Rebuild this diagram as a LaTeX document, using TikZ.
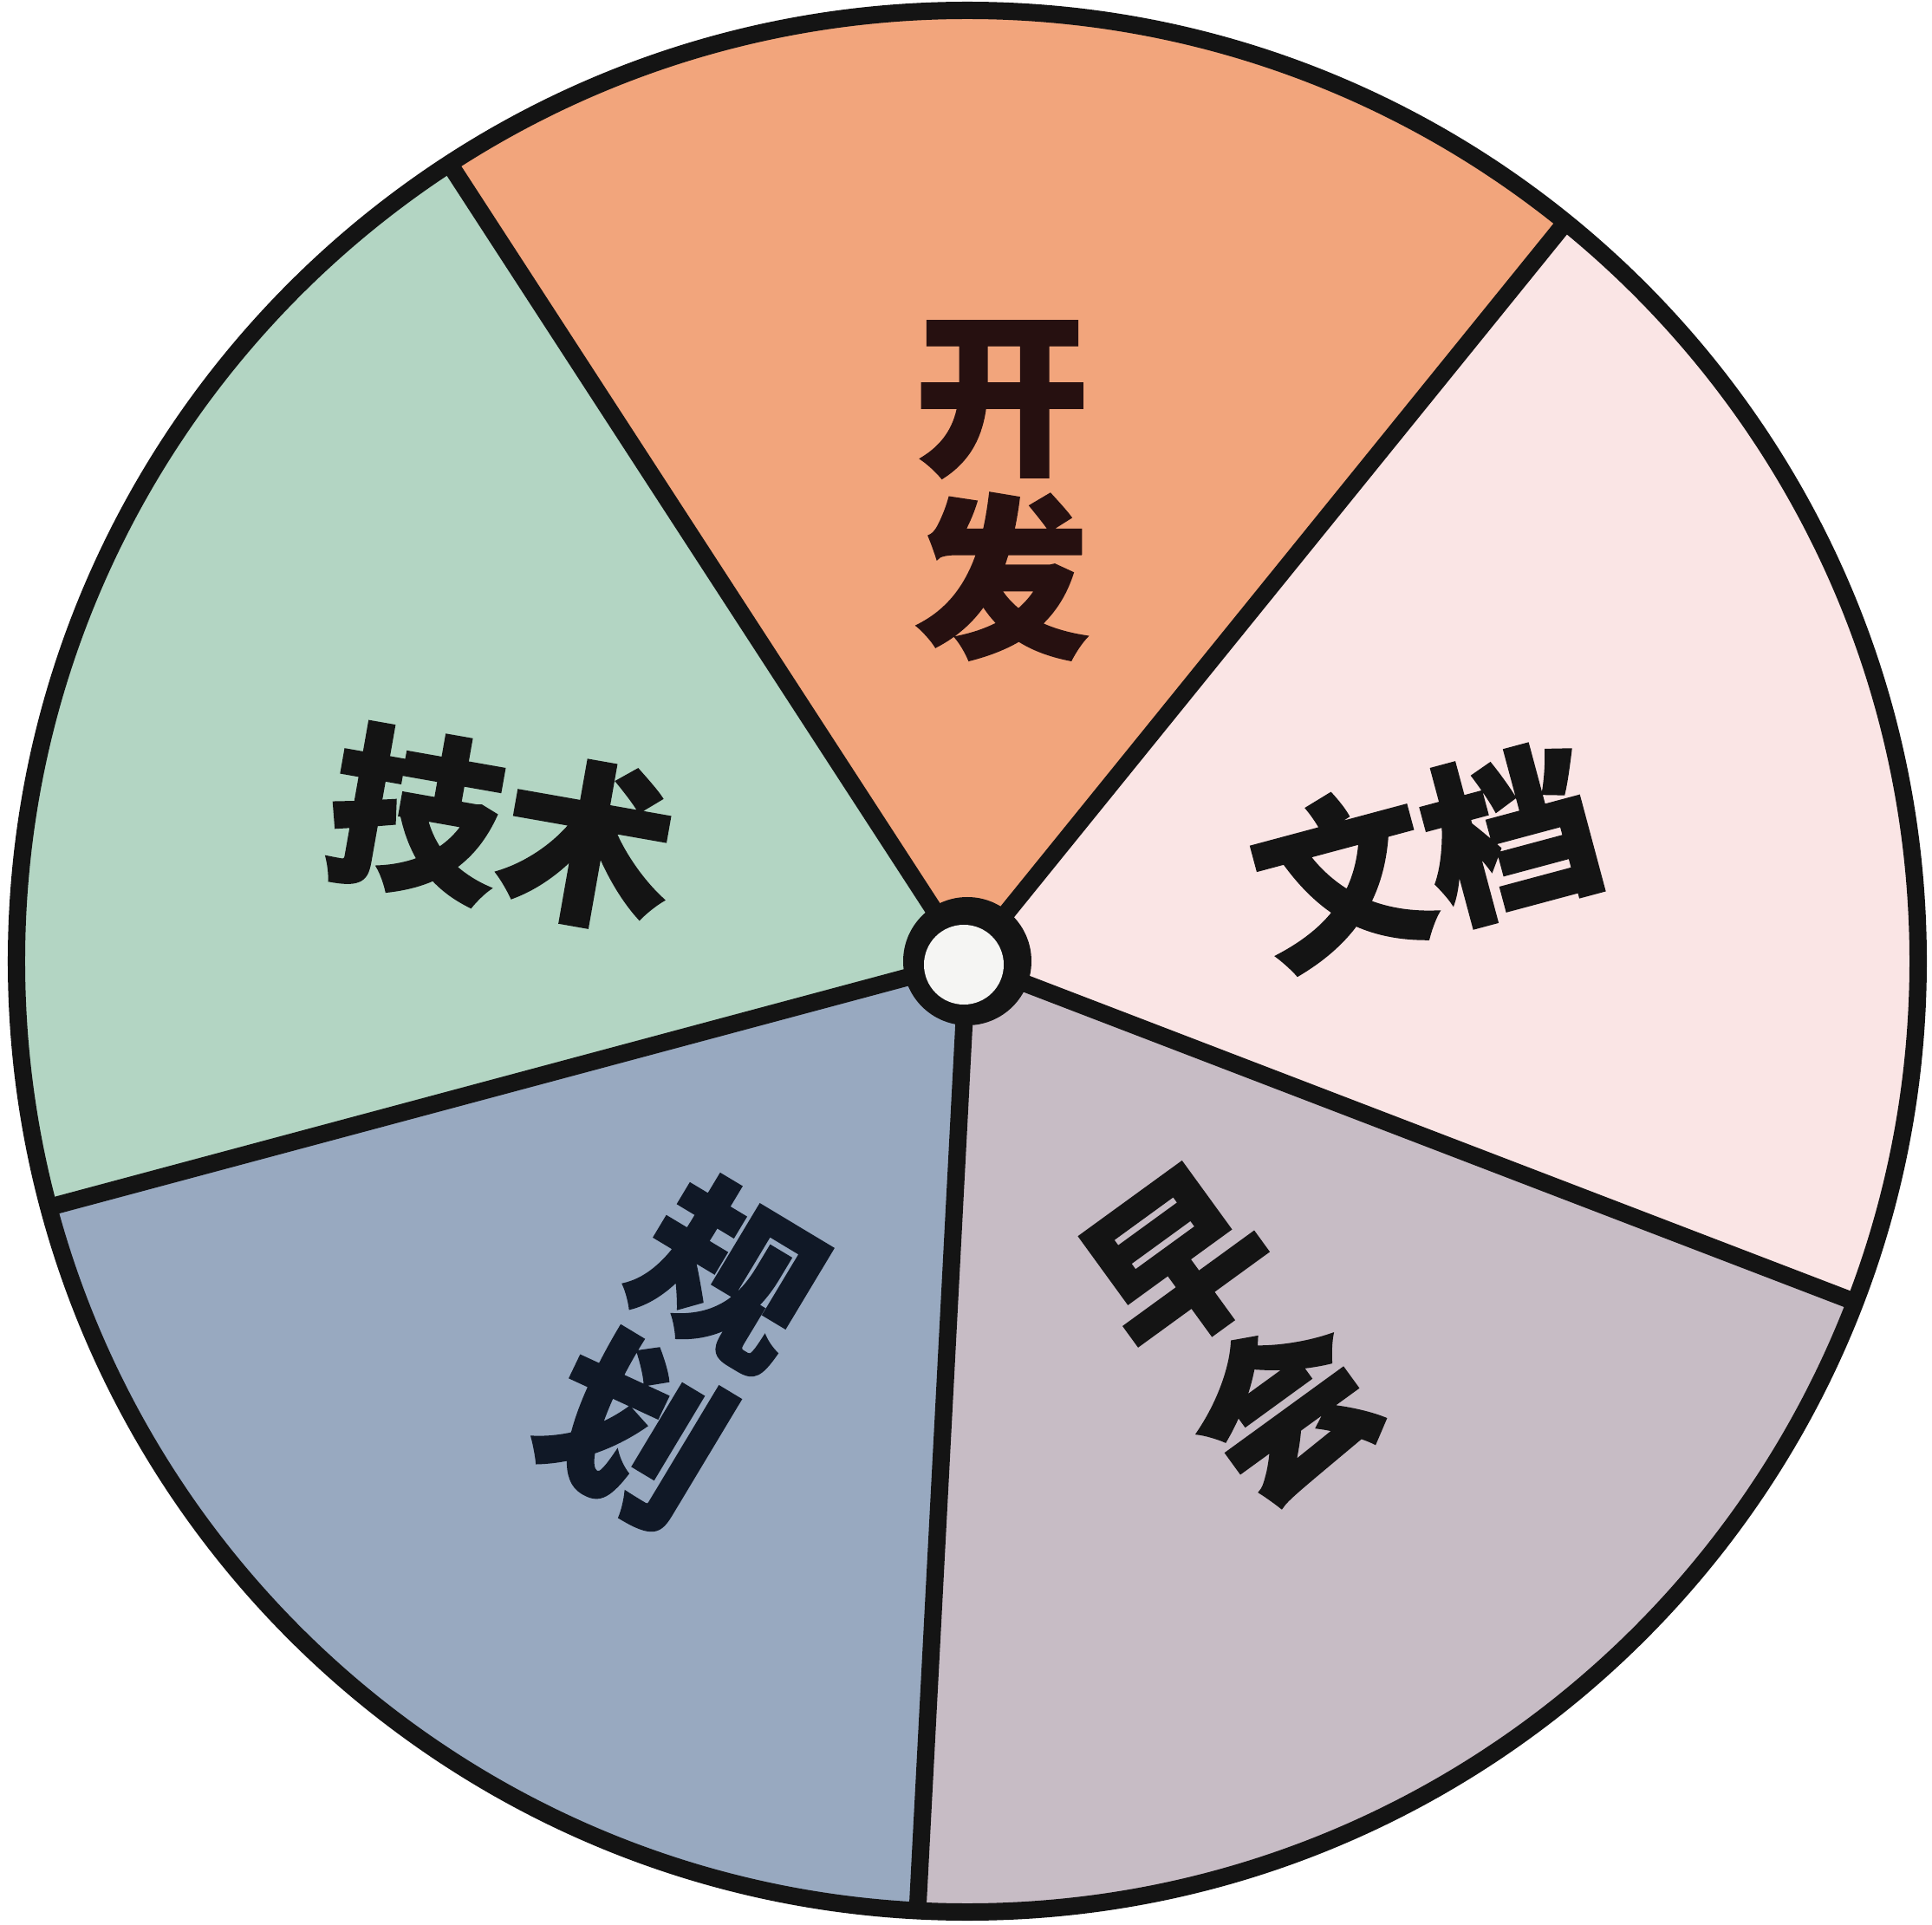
\documentclass[tikz,border=0pt]{standalone}
\usepackage{fontspec}
\newfontfamily\cjk{Noto Sans CJK SC}[BoldFeatures={FakeBold=1.5}]
\definecolor{kaifa}{HTML}{F2A57C}
\definecolor{wendang}{HTML}{FAE5E5}
\definecolor{zaohui}{HTML}{C7BCC5}
\definecolor{guihua}{HTML}{98A9C0}
\definecolor{jishu}{HTML}{B3D5C3}
\definecolor{hubwhite}{HTML}{F5F5F3}
\definecolor{ink}{HTML}{141414}
\definecolor{inkbrown}{HTML}{261010}
\definecolor{inkblue}{HTML}{101826}

\begin{document}
\begin{tikzpicture}[line width=0.2mm,
	wlabel/.style={font=\cjk\bfseries\fontsize{57}{60}\selectfont, align=center, text=ink, inner sep=0pt}]
	\def\rout{10.97}   % rim radius
	\def\rhub{0.46}    % hub radius

\useasboundingbox (-11.16,-11.11) rectangle (11.13,11.09);

% sectors
\fill[kaifa]   (0,0) -- (51:\rout)  arc (51:123:\rout)  -- cycle;
\fill[jishu]   (0,0) -- (123:\rout) arc (123:195:\rout) -- cycle;
\fill[guihua]  (0,0) -- (195:\rout) arc (195:267:\rout) -- cycle;
\fill[zaohui]  (0,0) -- (267:\rout) arc (267:339:\rout) -- cycle;
\fill[wendang] (0,0) -- (339:\rout) arc (339:411:\rout) -- cycle;

% dividers
\draw[line width=2mm, ink] (0,0) -- (51:\rout);
\draw[line width=2mm, ink] (0,0) -- (123:\rout);
\draw[line width=2mm, ink] (0,0) -- (195:\rout);
\draw[line width=2mm, ink] (0,0) -- (267:\rout);
\draw[line width=2mm, ink] (0,0) -- (339:\rout);

% rim
\draw[line width=2mm, ink] (0,0) circle (\rout);

% hub
\fill[ink] (0,0) circle (0.74);
\fill[hubwhite] (-0.04,-0.04) circle (\rhub);

\node[wlabel, text=inkbrown] (kf) at (0.40,5.43) {开\\发};
\node[wlabel, rotate=15]  (wd) at (5.29,1.23)   {文档};
\node[wlabel, rotate=36]  (zh) at (3.04,-4.34)  {早\\会};
\node[wlabel, rotate=-31, text=inkblue] (gh) at (-3.31,-4.51) {规\\划};
\node[wlabel, rotate=-10] (js) at (-5.37,1.53)  {技术};

\end{tikzpicture}
\end{document}
